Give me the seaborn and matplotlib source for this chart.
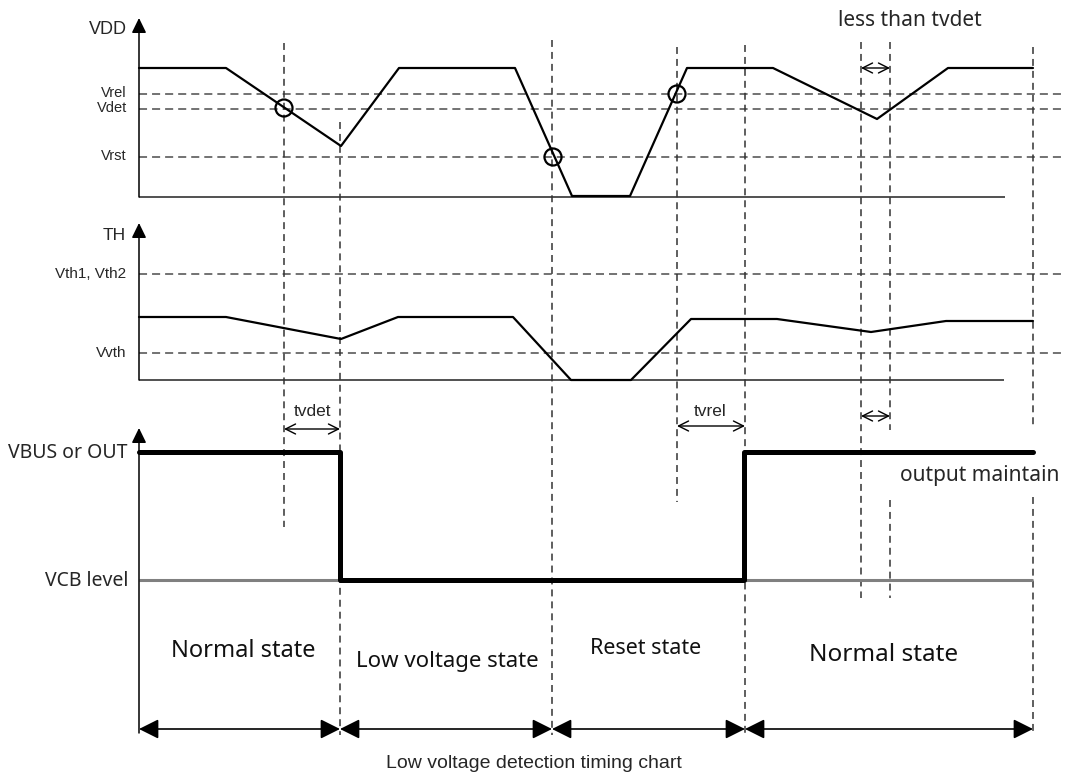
import numpy as np
import pandas as pd
import seaborn as sns
import matplotlib.pyplot as plt

# --- waveform breakpoints (x = time position, y = level on the drawing scale) ---
vdd_t = [139, 226, 341, 399, 515, 572, 630, 687, 773, 877, 948, 1033]
vdd_v = [68, 68, 146, 68, 68, 196, 196, 68, 68, 119, 68, 68]

th_t = [139, 226, 341, 398, 513, 571, 631, 691, 777, 871, 946, 1033]
th_v = [317, 317, 339, 317, 317, 380, 380, 319, 319, 332, 321, 321]

out_t = [139, 340, 340, 744, 744, 1033]
out_v = [452, 452, 580, 580, 452, 452]

# threshold levels
vdd_levels = {'Vrel': 94, 'Vdet': 109, 'Vrst': 157}
th_levels = {'Vth1, Vth2': 274, 'Vvth': 353}
out_levels = {'VBUS or OUT': 452, 'VCB level': 580}

# crossing markers on VDD
cross_t = [284, 553, 677]
cross_v = [108, 157, 94]

# vertical timing markers: x, top, bottom
marks_x = [284, 340, 552, 677, 745, 861, 890, 890, 1033, 1033]
marks_top = [43, 122, 40, 47, 45, 42, 42, 500, 47, 497]
marks_bot = [527, 735, 735, 502, 735, 598, 430, 598, 428, 735]

# state bands
state_edges = [139, 340, 552, 745, 1033]
state_names = ['Normal state', 'Low voltage state', 'Reset state', 'Normal state']
state_text_x = [243, 447, 646, 884]
state_text_y = [651, 662, 649, 655]
state_sizes = [17, 16, 15.5, 17.5]

sns.set_theme(style='white')
plt.rcParams['lines.scale_dashes'] = False
plt.rcParams['font.family'] = ['Liberation Sans', 'DejaVu Sans']
ui_font = ['Noto Sans', 'DejaVu Sans']

fig = plt.figure(figsize=(10.67, 7.76), dpi=100)
ax = fig.add_axes([0, 0, 1, 1])

x0 = 139
hdash = (0, (5.8, 3.6))
vdash = (0, (5.0, 3.6))

# threshold dashed lines
for lv in list(vdd_levels.values()) + list(th_levels.values()):
    ax.hlines(lv, x0, 1062, colors='#5a5a5a', linewidth=1.2, linestyles=[hdash], zorder=1)

# vertical dashed timing lines
for x, a, b in zip(marks_x, marks_top, marks_bot):
    ax.vlines(x, a, b, colors='#333333', linewidth=1.1, linestyles=[vdash], zorder=1)

# baselines
ax.hlines(197, x0, 1005, colors='#333333', linewidth=1.2, zorder=2)
ax.hlines(380, x0, 1004, colors='#333333', linewidth=1.2, zorder=2)
ax.hlines(out_levels['VCB level'], x0, 1033, colors='#808080', linewidth=2.2, zorder=2)

# waveforms
vdd_df = pd.DataFrame({'t': vdd_t, 'v': vdd_v})
th_df = pd.DataFrame({'t': th_t, 'v': th_v})
out_df = pd.DataFrame({'t': out_t, 'v': out_v})
sns.lineplot(data=vdd_df, x='t', y='v', sort=False, estimator=None, color='black', linewidth=1.6, ax=ax, zorder=3)
sns.lineplot(data=th_df, x='t', y='v', sort=False, estimator=None, color='black', linewidth=1.6, ax=ax, zorder=3)
sns.lineplot(data=out_df, x='t', y='v', sort=False, estimator=None, color='black', linewidth=3.6, ax=ax, zorder=4)

sns.scatterplot(x=cross_t, y=cross_v, s=150, facecolor='none', edgecolor='black', linewidth=1.6, ax=ax, zorder=5)

ax.set_xlim(0, 1067)
ax.set_ylim(776, 0)
ax.axis('off')

# vertical axes with arrows
ax_arrow = dict(arrowstyle='-|>,head_length=0.45,head_width=0.22', mutation_scale=20,
                lw=1.1, color='black', shrinkA=0, shrinkB=0)
for top, bot in [(18, 197), (223, 380), (428, 733)]:
    ax.annotate('', xy=(x0, top), xytext=(x0, bot), arrowprops=ax_arrow, zorder=3)

# axis labels
ax.text(127, 30, 'VDD', ha='right', va='center', fontsize=13)
for name, lv in vdd_levels.items():
    ax.text(127, lv - 1, name, ha='right', va='center', fontsize=10.5)
ax.text(126, 235, 'TH', ha='right', va='center', fontsize=12.5)
for name, lv in th_levels.items():
    ax.text(126, lv, name, ha='right', va='center', fontsize=11)
for name, lv in out_levels.items():
    ax.text(128, lv + 1, name, ha='right', va='center', fontsize=14, family=ui_font)

# small timing arrows
small = dict(arrowstyle='<->,head_length=0.6,head_width=0.3', mutation_scale=12,
             lw=1.0, color='black', shrinkA=0, shrinkB=0)
ax.annotate('', xy=(284, 429), xytext=(340, 429), arrowprops=small)
ax.annotate('', xy=(677, 426), xytext=(745, 426), arrowprops=small)
ax.annotate('', xy=(861, 68), xytext=(890, 68), arrowprops=small)
ax.annotate('', xy=(861, 416), xytext=(890, 416), arrowprops=small)
ax.text(313, 411, 'tvdet', ha='center', va='center', fontsize=12.5)
ax.text(710, 411, 'tvrel', ha='center', va='center', fontsize=12.5)
ax.text(910, 21, 'less than tvdet', ha='center', va='center', fontsize=15, family=ui_font)
ax.text(980, 476, 'output maintain', ha='center', va='center', fontsize=15, family=ui_font)

# state arrows and labels
state_arrow = dict(arrowstyle='<|-|>,head_length=0.6,head_width=0.3', mutation_scale=20,
                   lw=1.2, color='black', shrinkA=0, shrinkB=0)
for a, b in zip(state_edges[:-1], state_edges[1:]):
    ax.annotate('', xy=(a, 729), xytext=(b, 729), arrowprops=state_arrow)
for name, tx, ty, fs in zip(state_names, state_text_x, state_text_y, state_sizes):
    ax.text(tx, ty, name, ha='center', va='center', fontsize=fs, family=ui_font, color='#111111')

ax.text(534, 763, 'Low voltage detection timing chart', ha='center', va='center', fontsize=14)

fig.savefig('out.png', dpi=100, facecolor='white')
